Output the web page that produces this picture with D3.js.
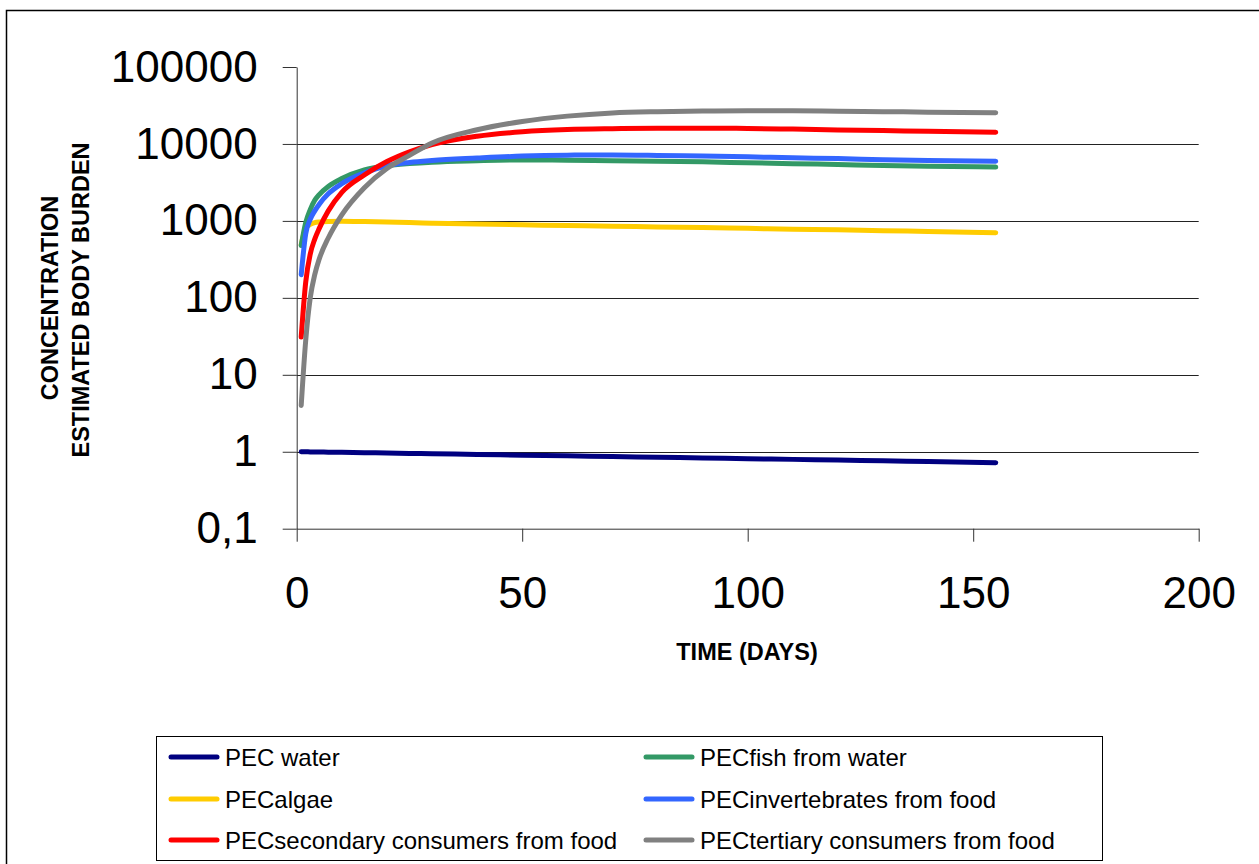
<!DOCTYPE html>
<html>
<head>
<meta charset="utf-8">
<script src="https://cdn.jsdelivr.net/npm/d3@7"></script>
<style>
  html, body { margin: 0; padding: 0; background: #fff; }
  svg { display: block; }
  text { font-family: "Liberation Sans", Arial, sans-serif; fill: #000; }
</style>
</head>
<body>
<svg id="chart" width="1259" height="864"></svg>
<script>
// ---- data ----
const days = [1, 2, 3, 4, 5, 7, 10, 15, 20, 25, 30, 40, 50, 60, 70, 80, 90, 100, 110, 120, 130, 140, 155];

const pecWater      = [1.0, 0.998, 0.996, 0.994, 0.992, 0.988, 0.982, 0.972, 0.962, 0.952, 0.942, 0.922, 0.903, 0.884, 0.866, 0.848, 0.830, 0.813, 0.796, 0.779, 0.763, 0.747, 0.722];
const pecAlgae      = [490, 800, 900, 950, 970, 985, 990, 980, 965, 950, 935, 910, 890, 870, 855, 835, 820, 800, 780, 765, 745, 730, 700];
const pecFish       = [480, 950, 1400, 1850, 2200, 2800, 3550, 4600, 5200, 5550, 5800, 6050, 6200, 6150, 6050, 5950, 5850, 5700, 5550, 5400, 5250, 5150, 5000];
const pecInvert     = [200, 680, 1050, 1350, 1650, 2250, 3050, 4200, 5200, 5750, 6100, 6550, 6950, 7150, 7200, 7100, 6950, 6800, 6600, 6450, 6250, 6100, 5950];
const pecSecondary  = [31, 160, 370, 580, 800, 1350, 2350, 3950, 5900, 7900, 9800, 12600, 14400, 15400, 15800, 16000, 16000, 15900, 15600, 15200, 14900, 14600, 14200];
const pecTertiary   = [4, 28, 100, 200, 320, 600, 1200, 2700, 4800, 7100, 10300, 15300, 19600, 23000, 25300, 26300, 26800, 27000, 27000, 26700, 26300, 25900, 25500];

const seriesNames  = ["PEC water", "PECfish from water", "PECalgae", "PECinvertebrates from food", "PECsecondary consumers from food", "PECtertiary consumers from food"];
const seriesColors = ["#000080", "#339966", "#FFCC00", "#3366FF", "#FF0000", "#808080"];
const seriesValues = [pecWater, pecFish, pecAlgae, pecInvert, pecSecondary, pecTertiary];
const drawOrder    = [0, 2, 1, 3, 4, 5];

const yTickValues = [0.1, 1, 10, 100, 1000, 10000, 100000];
const yTickLabels = ["0,1", "1", "10", "100", "1000", "10000", "100000"];
const xTickValues = [0, 50, 100, 150, 200];
const xTickLabels = ["0", "50", "100", "150", "200"];
const gridValues  = [1, 10, 100, 1000, 10000];

const xTitle = "TIME (DAYS)";
const yTitle1 = "CONCENTRATION";
const yTitle2 = "ESTIMATED BODY BURDEN";

// ---- layout ----
const svg = d3.select("#chart");
const x = d3.scaleLinear().domain([0, 200]).range([296.7, 1198.7]);
const y = d3.scaleLog().domain([0.1, 100000]).range([528.7, 67]);

// outer border
svg.append("rect")
  .attr("x", 6.5).attr("y", 10.5).attr("width", 1300).attr("height", 900)
  .attr("fill", "none").attr("stroke", "#000").attr("stroke-width", 1.5);

// gridlines
svg.append("g").selectAll("line").data(gridValues).join("line")
  .attr("x1", x(0)).attr("x2", x(200))
  .attr("y1", d => Math.round(y(d)) + 0.5).attr("y2", d => Math.round(y(d)) + 0.5)
  .attr("stroke", "#222").attr("stroke-width", 1);

// y axis
const yAxis = d3.axisLeft(y).tickValues(yTickValues)
  .tickFormat((d, i) => yTickLabels[i]).tickSize(14).tickSizeOuter(0).tickPadding(25);
const gy = svg.append("g").attr("transform", `translate(${x(0)},0)`).call(yAxis);
gy.selectAll("text").style("font-size", "44px").attr("font-family", null);
gy.selectAll("line,path").attr("stroke", "#333");

// x axis
const xAxis = d3.axisBottom(x).tickValues(xTickValues)
  .tickFormat((d, i) => xTickLabels[i]).tickSize(13).tickSizeOuter(0).tickPadding(35);
const gx = svg.append("g").attr("transform", `translate(0,${y(0.1)})`).call(xAxis);
gx.selectAll("text").style("font-size", "44px").attr("font-family", null);
gx.selectAll("line,path").attr("stroke", "#333");

// axis titles
svg.append("text").attr("x", 747).attr("y", 660)
  .attr("text-anchor", "middle").style("font-size", "23.5px").style("font-weight", "bold")
  .text(xTitle);
svg.append("text").attr("transform", "translate(58,298) rotate(-90)")
  .attr("text-anchor", "middle").style("font-size", "23.5px").style("font-weight", "bold")
  .text(yTitle1);
svg.append("text").attr("transform", "translate(89,300) rotate(-90)")
  .attr("text-anchor", "middle").style("font-size", "23.5px").style("font-weight", "bold")
  .text(yTitle2);

// series lines
const line = d3.line().x((d, i) => x(days[i])).y(d => y(d)).curve(d3.curveMonotoneX);
svg.append("g").selectAll("path").data(drawOrder).join("path")
  .attr("d", k => line(seriesValues[k]))
  .attr("fill", "none")
  .attr("stroke", k => seriesColors[k])
  .attr("stroke-width", 5)
  .attr("stroke-linecap", "round")
  .attr("stroke-linejoin", "round");

// legend
const lg = svg.append("g");
lg.append("rect").attr("x", 156.5).attr("y", 736.5).attr("width", 946).attr("height", 124)
  .attr("fill", "#fff").attr("stroke", "#000").attr("stroke-width", 1);
const colX = [171, 646];
const rowY = [757, 799, 840];
seriesNames.forEach((name, i) => {
  const cx = colX[i % 2], cy = rowY[Math.floor(i / 2)];
  lg.append("line").attr("x1", cx).attr("x2", cx + 46).attr("y1", cy).attr("y2", cy)
    .attr("stroke", seriesColors[i]).attr("stroke-width", 5).attr("stroke-linecap", "round");
  lg.append("text").attr("x", cx + 54).attr("y", cy + 9)
    .style("font-size", "24px").text(name);
});
</script>
</body>
</html>
